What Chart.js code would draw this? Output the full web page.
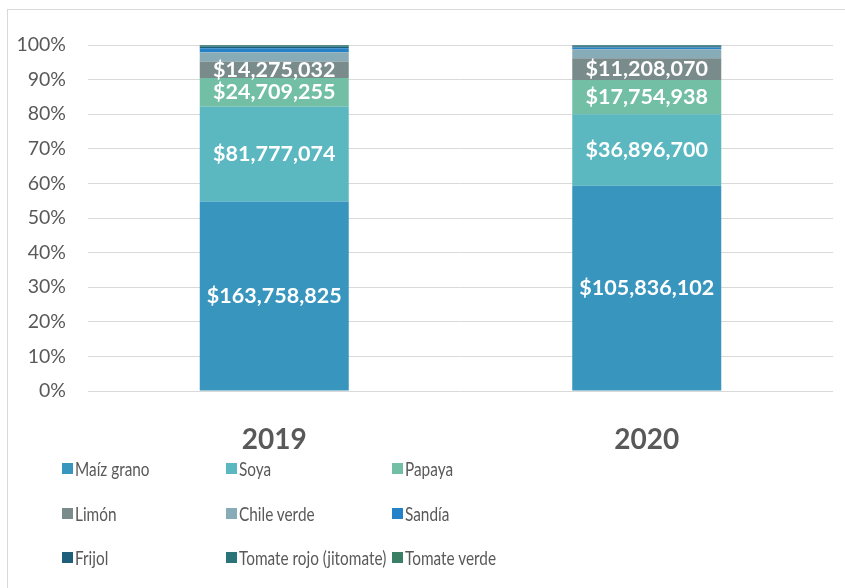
<!DOCTYPE html>
<html><head><meta charset="utf-8">
<script src="https://cdn.jsdelivr.net/npm/chart.js@4"></script>
<style>
html,body{margin:0;padding:0;background:#fff;}
#wrap{position:relative;width:845px;height:588px;overflow:hidden;}
#frame{position:absolute;left:7px;top:9px;width:900px;height:700px;border:1px solid #D9D9D9;box-sizing:border-box;}
#c{position:absolute;left:0;top:0;}
.lg{position:absolute;height:20px;}
.lg i{position:absolute;left:0;top:4px;width:11px;height:11px;}
.lg span{position:absolute;left:13px;top:0;font-family:Lato,"Open Sans",sans-serif;font-size:18.5px;color:#595959;white-space:nowrap;line-height:20px;transform:scaleX(0.83);transform-origin:0 50%;}
</style></head>
<body><div id="wrap"><div id="frame"></div><canvas id="c" width="845" height="588"></canvas></div>
<script>
const categories = ["2019", "2020"];
const seriesNames = ["Maíz grano","Soya","Papaya","Limón","Chile verde","Sandía","Frijol","Tomate rojo (jitomate)","Tomate verde"];
const maizGrano   = [163758825, 105836102];
const soya        = [81777074, 36896700];
const papaya      = [24709255, 17754938];
const limon       = [14275032, 11208070];
const chileVerde  = [8000000, 4600000];
const sandia      = [3400000, 900000];
const frijol      = [1300000, 600000];
const tomateRojo  = [900000, 400000];
const tomateVerde = [700000, 300000];
const yTicks = [0,10,20,30,40,50,60,70,80,90,100];
const labeledSeries = ["Maíz grano","Soya","Papaya","Limón"];

const seriesValues = [maizGrano, soya, papaya, limon, chileVerde, sandia, frijol, tomateRojo, tomateVerde];
const colors = ["#3895BE","#5BB8C1","#73BFA5","#7A8B8C","#88ACB7","#2682C8","#1F5E78","#2A7479","#3B7E66"];

const totals = categories.map((_, i) => seriesValues.reduce((s, a) => s + a[i], 0));
const datasets = seriesNames.map((n, k) => ({
  label: n,
  raw: seriesValues[k],
  data: seriesValues[k].map((v, i) => v / totals[i] * 100),
  backgroundColor: colors[k],
  borderWidth: 0,
  categoryPercentage: 1,
  barPercentage: 0.4
}));

const fmt = v => "$" + v.toLocaleString("en-US");

const labelPlugin = {
  id: "segLabels",
  afterDatasetsDraw(chart) {
    const ctx = chart.ctx;
    ctx.save();
    ctx.font = "bold 21.5px Lato, 'Open Sans', sans-serif";
    ctx.fillStyle = "#FFFFFF";
    ctx.textAlign = "center";
    ctx.textBaseline = "middle";
    chart.data.datasets.forEach((ds, k) => {
      if (!labeledSeries.includes(ds.label)) return;
      chart.getDatasetMeta(k).data.forEach((bar, i) => {
        const y = (bar.y + bar.base) / 2;
        ctx.fillText(fmt(ds.raw[i]), bar.x, y);
      });
    });
    ctx.restore();
  }
};

new Chart(document.getElementById("c"), {
  type: "bar",
  data: { labels: categories, datasets },
  plugins: [labelPlugin],
  options: {
    responsive: false,
    animation: false,
    layout: { padding: { top: 45, right: 12, bottom: 133, left: 0 } },
    plugins: { legend: { display: false }, tooltip: { enabled: false } },
    scales: {
      x: {
        stacked: true,
        grid: { display: false },
        border: { display: false },
        ticks: { color: "#595959", font: { family: "Lato", size: 28, weight: "bold" }, padding: 24 },
        afterFit: s => { s.height = 64; }
      },
      y: {
        stacked: true,
        min: 0, max: 100,
        afterBuildTicks: s => { s.ticks = yTicks.map(v => ({ value: v })); },
        grid: { color: "#D9D9D9", drawTicks: false },
        border: { display: false },
        ticks: { color: "#595959", font: { family: "Lato", size: 19.5 }, padding: 22, callback: v => v + "%" },
        afterFit: s => { s.width = 88; }
      }
    }
  }
});

// HTML legend (3 columns x 3 rows)
const colX = [62, 226, 392];
const rowY = [459, 504, 548];
const wrap = document.getElementById("wrap");
seriesNames.forEach((n, k) => {
  const d = document.createElement("div");
  d.className = "lg";
  d.style.left = colX[k % 3] + "px";
  d.style.top = rowY[Math.floor(k / 3)] + "px";
  const b = document.createElement("i");
  b.style.background = colors[k];
  d.appendChild(b);
  const t = document.createElement("span");
  t.textContent = n;
  d.appendChild(t);
  wrap.appendChild(d);
});
</script>
</body></html>
